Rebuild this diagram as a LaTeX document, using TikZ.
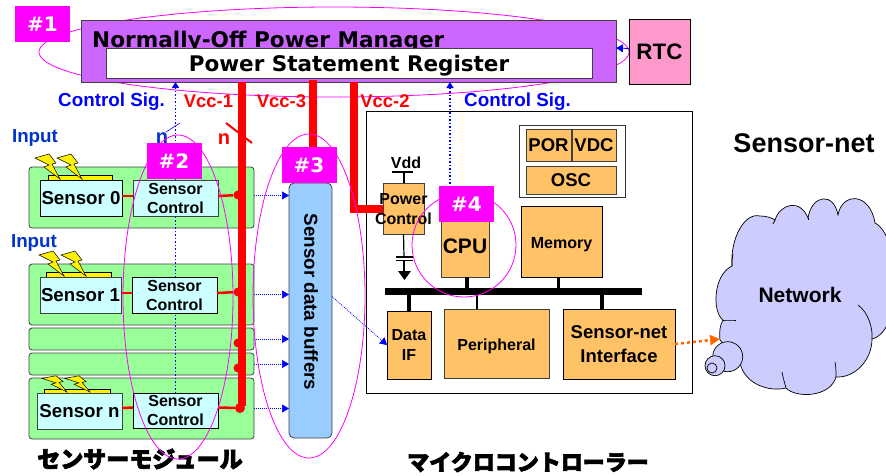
\documentclass[tikz,border=0pt]{standalone}
\usepackage{fontspec}
\setmainfont{Liberation Sans}
\newfontfamily\verd{DejaVu Sans}
\newfontfamily\jp[BoldFeatures={FakeBold=3}]{Noto Sans CJK JP}
\usetikzlibrary{arrows.meta}
\definecolor{fuchsia}{HTML}{FF00FF}
\definecolor{violet}{HTML}{CC66FF}
\definecolor{rose}{HTML}{FF99CC}
\definecolor{vert}{HTML}{99FF99}
\definecolor{cyanpale}{HTML}{CCFFFF}
\definecolor{orangepale}{HTML}{FFC266}
\definecolor{ciel}{HTML}{99CCFF}
\definecolor{lilas}{HTML}{CCCCFF}
\definecolor{bleu}{HTML}{0033CC}
\definecolor{orangefort}{HTML}{FF6600}

\begin{document}
\begin{tikzpicture}[x=1pt, y=-1pt]
	% STYLES
	\tikzstyle{boite} = [draw=black!75, line width=.8pt, inner sep=0, outer sep=0, align=center, font=\fontsize{16}{19}\selectfont\bfseries]
	\tikzstyle{module} = [boite, fill=vert, rounded corners=3pt]
	\tikzstyle{capteur} = [boite, fill=cyanpale, font=\fontsize{18.7}{22}\selectfont\bfseries]
	\tikzstyle{ctrlbox} = [boite, fill=cyanpale]
	\tikzstyle{orbox} = [boite, fill=orangepale]
	\tikzstyle{orgros} = [orbox, font=\fontsize{18.5}{23}\selectfont\bfseries]
	\tikzstyle{tag} = [fill=fuchsia, text=white, inner sep=0, outer sep=0, minimum width=55pt, minimum height=36pt, font=\verd\fontsize{20}{24}\selectfont\bfseries]
	\tikzstyle{halo} = [draw=fuchsia, line width=.8pt]
	\tikzstyle{vcc} = [draw=red, line width=8pt]
	\tikzstyle{vccfin} = [draw=red, line width=2.5pt]
	\tikzstyle{pastille} = [circle, fill=red, inner sep=0, minimum size=9pt]
	\tikzstyle{ctrlsig} = [draw=blue, line width=1.5pt, dash pattern=on 1.5pt off 2pt, -{Triangle[length=6pt,width=7pt]}]
	\tikzstyle{donnee} = [draw=blue, line width=.7pt, dash pattern=on 1pt off 1pt, -{Triangle[length=7pt,width=8pt]}]
	\tikzstyle{rouge} = [text=red, font=\fontsize{18.4}{22}\selectfont\bfseries]
	\tikzstyle{bleutxt} = [text=blue, font=\fontsize{18.8}{22}\selectfont\bfseries]
	\tikzstyle{entree} = [text=bleu, font=\fontsize{18.8}{22}\selectfont\bfseries]
	\tikzstyle{tige} = [draw=black, line width=3.5pt]
	\tikzstyle{eclair} = [fill=yellow, draw=black, line width=.5pt]
	\tikzstyle{plaque} = [fill=yellow, draw=black, line width=.5pt]
	\tikzstyle{nuage} = [fill=lilas, draw=black, line width=.7pt]

	\useasboundingbox (0,0) rectangle (886,475);
	\clip (0,0) rectangle (886,475);

	% ELLIPSE 1
	\draw[halo] (334,52) ellipse (295 and 45);

	% MANAGER
	\node[boite, fill=violet, minimum width=535pt, minimum height=62pt] (pm) at (348.5,51) {};
	\node[anchor=base west, inner sep=0, font=\verd\fontsize{21.6}{26}\selectfont\bfseries] (pmtxt) at (92,47) {Normally-Off Power Manager};
	\node[boite, fill=white, minimum width=486pt, minimum height=30pt, font=\verd\fontsize{21.5}{26}\selectfont\bfseries] (psr) at (349,63) {\raisebox{-8.5pt}[0pt][0pt]{Power Statement Register}};
	\node[boite, draw=black, fill=rose, minimum width=61pt, minimum height=65pt, font=\fontsize{22.4}{26}\selectfont\bfseries] (rtc) at (659.5,51.5) {RTC};
	\draw[draw=blue, line width=.8pt, -{Triangle[length=7pt,width=8pt]}] ([yshift=3pt]rtc.west) -- ([yshift=3pt]pm.east);

	% MODULES
	\node[module, minimum width=225pt, minimum height=61pt] (mod0) at (141.5,197.5) {};
	\node[module, minimum width=225pt, minimum height=61pt] (mod1) at (141.5,294.5) {};
	\node[module, minimum width=225pt, minimum height=22pt] (modA) at (141.5,339) {};
	\node[module, minimum width=225pt, minimum height=22pt] (modB) at (141.5,364) {};
	\node[module, minimum width=225pt, minimum height=61pt] (modn) at (141.5,408.5) {};

	% CONTROL SIG
	\coordinate (csbas) at (175.5,393);
	\draw[ctrlsig] (csbas) -- (csbas |- pm.south);

	% CAPTEURS
	\draw[plaque] (48,175) rectangle (112,181);
	\draw[plaque] (46,272) rectangle (111,278);
	\draw[plaque] (44,389) rectangle (110,394);
	\foreach \x/\y/\s in {60/179/1, 82/179/1, 64/276/1, 86/276/1, 67/392/.65, 90/392/.65}
		\draw[eclair] (\x-25,\y-21*\s) -- (\x-11,\y-25*\s) -- (\x-4,\y-16*\s) -- (\x-8,\y-15*\s) -- (\x,\y) -- (\x-16,\y-12*\s) -- (\x-11,\y-14*\s) -- cycle;

	\node[capteur, draw=black, minimum width=82pt, minimum height=36pt] (sens0) at (81,198) {Sensor 0};
	\node[ctrlbox, minimum width=85pt, minimum height=36pt] (ctrl0) at (175.5,198) {Sensor\\Control};
	\node[capteur, minimum width=81pt, minimum height=36pt] (sens1) at (80.5,295) {Sensor 1};
	\node[ctrlbox, draw=black, minimum width=85pt, minimum height=36pt] (ctrl1) at (174.5,295) {Sensor\\Control};
	\node[capteur, minimum width=85pt, minimum height=36pt] (sensn) at (79.5,411) {Sensor n};
	\node[ctrlbox, draw=black, minimum width=85pt, minimum height=35pt] (ctrln) at (175.5,410.5) {Sensor\\Control};

	% BUS VCC
	\coordinate (vcc1h) at (242,82);
	\coordinate (vcc1b) at (242,406);
	\coordinate (vcc3h) at (313,80);
	\coordinate (vcc3b) at (313,150);
	\coordinate (vcc2h) at (354,82);
	\node[pastille] (pt0) at (238,195) {};
	\node[pastille] (pt1) at (238,292) {};
	\node[pastille] (ptA) at (238,343) {};
	\node[pastille] (ptB) at (238,368) {};
	\node[pastille, minimum size=10pt] (ptn) at (240,408) {};
	\draw[vcc] (vcc1h) -- (vcc1b);
	\draw[vccfin] ([yshift=2pt]sens0.east) -- ([yshift=2pt]ctrl0.west);
	\draw[vccfin] ([yshift=2pt]ctrl0.east) -- (pt0);
	\draw[vccfin] ([yshift=2pt]sens1.east) -- ([yshift=2pt]ctrl1.west);
	\draw[vccfin] ([yshift=2pt]ctrl1.east) -- (pt1);
	\draw[vccfin] ([yshift=3pt]sensn.east) -- ([yshift=3pt]ctrln.west);
	\draw[vccfin] ([yshift=3pt]ctrln.east) -- (ptn);

	% BUFFERS
	\node[boite, fill=ciel, rounded corners=5pt, minimum width=43pt, minimum height=255pt] (buf) at (310.5,310.5) {};
	\node[rotate=-90, font=\fontsize{18.8}{22}\selectfont\bfseries] (buftxt) at (311,302) {Sensor data buffers};
	\draw[donnee] ([yshift=2pt]mod0.east) -- ([yshift=2pt]mod0.east -| buf.west);
	\draw[donnee] (mod1.east) -- (mod1.east -| buf.west);
	\draw[donnee] (modA.east) -- (modA.east -| buf.west);
	\draw[donnee] (modB.east) -- (modB.east -| buf.west);
	\draw[donnee] (modn.east) -- (modn.east -| buf.west);

	% MICROCONTROLEUR
	\node[boite, draw=black, fill=white, minimum width=326pt, minimum height=282pt] (mcu) at (529,252) {};
	\node[boite, draw=black!80, fill=white, minimum width=106pt, minimum height=72pt] (grp) at (572,161) {};
	\node[orgros, minimum width=45pt, minimum height=32pt] (por) at (548.5,145) {POR};
	\node[orgros, minimum width=44pt, minimum height=32pt] (vdc) at (594,145) {VDC};
	\node[orgros, minimum width=90pt, minimum height=28pt] (osc) at (571,180) {OSC};
	\node[orbox, minimum width=41pt, minimum height=51pt] (pc) at (403.5,208.5) {};
	\node[orbox, draw=black, minimum width=81pt, minimum height=71pt] (mem) at (561.5,241.5) {\raisebox{-7.2pt}[0pt][0pt]{Memory}};
	\node[orbox, draw=black, minimum width=44pt, minimum height=68pt, font=\fontsize{16}{20}\selectfont\bfseries] (dif) at (409,345) {Data\\IF};
	\node[orbox, minimum width=105pt, minimum height=69pt] (per) at (496.5,343.5) {\raisebox{-7.2pt}[0pt][0pt]{Peripheral}};
	\node[orgros, draw=black, minimum width=112pt, minimum height=70pt, font=\fontsize{18.5}{23.5}\selectfont\bfseries] (sni) at (619,344) {Sensor-net\\Interface};
	\node[fill=black, inner sep=0, outer sep=0, minimum width=257pt, minimum height=7pt] (bus) at (513.5,291.5) {};
	\node[orbox, minimum width=48pt, minimum height=62pt, font=\fontsize{21}{24}\selectfont\bfseries] (cpu) at (465,246) {CPU};

	% CONTROL SIG CPU
	\draw[ctrlsig] ([xshift=-15pt]cpu.north) -- ([xshift=-15pt]cpu.north |- pm.south);
	\draw[donnee] ([yshift=14pt]buf.east) -- (dif.west);

	% TIGES
	\draw[tige] ([xshift=2pt]cpu.south) -- ([xshift=2pt]cpu.south |- bus.north);
	\draw[tige] ([xshift=-3pt]mem.south) -- ([xshift=-3pt]mem.south |- bus.north);
	\draw[tige] (dif.north) -- (dif.north |- bus.south);
	\draw[tige, line width=2.5pt] ([xshift=-19.5pt]per.north) -- ([xshift=-19.5pt]per.north |- bus.south);
	\draw[tige] ([xshift=-17pt]sni.north) -- ([xshift=-17pt]sni.north |- bus.south);

	% VDD ET MASSE
	\node[font=\fontsize{16}{19}\selectfont\bfseries] (vdd) at (406,163) {Vdd};
	\coordinate (vddt) at (403.5,172);
	\coordinate (capa) at (404,257);
	\coordinate (capb) at (404,260.5);
	\coordinate (masse) at (404,271);
	\draw[line width=2pt] (pc.north) -- (vddt);
	\draw[line width=2pt] (392,172) -- (413,172);
	\draw[line width=1.2pt] (pc.south) -- (capa);
	\draw[line width=1.2pt] (396,257) -- (413,257);
	\draw[line width=1.2pt] (396,260.5) -- (413,260.5);
	\draw[line width=1.2pt] (capb) -- (masse);
	\fill (398,271) -- (411,271) -- (404.5,280) -- cycle;

	% VCC SUITE
	\draw[vcc] (vcc3h) -- (vcc3b);
	\draw[vcc] (vcc2h) |- (pc.west);
	\node[align=center, font=\fontsize{16}{20}\selectfont\bfseries] (pctxt) at (403.5,209) {Power\\Control};

	% NUAGE
	\draw[nuage] (720,340) .. controls (719,332) and (720,325) .. (723,320)
		.. controls (712,312) and (713,275) .. (732,266)
		.. controls (730,238) and (745,212) .. (760,216)
		.. controls (767,216) and (772,218) .. (775,220)
		.. controls (780,204) and (800,198) .. (808,218)
		.. controls (812,194) and (834,192) .. (838,215)
		.. controls (842,192) and (870,192) .. (875,223)
		.. controls (900,235) and (905,330) .. (872,339)
		.. controls (872,360) and (855,378) .. (836,377)
		.. controls (830,398) and (795,398) .. (786,388)
		.. controls (770,392) and (745,385) .. (740,363) -- cycle;
	\draw[line width=.7pt] (723,320) .. controls (727,320) and (732,320) .. (736,320);
	\draw[line width=.7pt] (858,305) .. controls (868,312) and (873,328) .. (872,339);
	\draw[line width=.7pt] (835,362) .. controls (836,367) and (836,372) .. (836,377);
	\draw[line width=.7pt] (782,372) .. controls (783,378) and (785,384) .. (786,388);
	\draw[line width=.7pt] (732,266) .. controls (732,262) and (732,258) .. (733,254);
	\draw[line width=.7pt] (775,220) -- (773,224);
	\draw[line width=.7pt] (808,218) -- (808,220);
	\draw[nuage] (727.7,356.7) circle (15);
	\draw[nuage] (715,365.7) circle (10);
	\draw[nuage] (712,368) circle (5);
	\node[font=\fontsize{21}{25}\selectfont\bfseries] (net) at (800,295) {Network};
	\node[font=\fontsize{27}{31}\selectfont\bfseries] (snet) at (804,143) {Sensor-net};
	\draw[draw=orangefort, line width=2.5pt, dash pattern=on 3pt off 3pt, -{Triangle[length=10pt,width=10pt]}] (sni.east) -- (720,339);

	% ETIQUETTES
	\node[bleutxt] (cs1) at (111.5,102) {Control Sig.};
	\node[bleutxt] (cs2) at (517.5,102) {Control Sig.};
	\node[rouge] (v1) at (208.5,101) {Vcc-1};
	\node[rouge] (v3) at (281.5,101) {Vcc-3};
	\node[rouge] (v2) at (385,101) {Vcc-2};
	\node[entree] (in0) at (35,138) {Input};
	\node[entree] (in1) at (34,243) {Input};
	\node[text=bleu, font=\fontsize{20}{24}\selectfont\bfseries] (nb) at (162,138) {n};
	\node[text=red, font=\fontsize{20}{24}\selectfont\bfseries] (nr) at (224,139) {n};
	\draw[blue, line width=.6pt] (166,132) -- (180,123);
	\draw[red, line width=2pt] (226,123) -- (252,143);
	\node[font=\jp\fontsize{23}{26}\selectfont\bfseries] (tmod) at (140,459) {センサーモジュール};
	\node[font=\jp\fontsize{22}{26}\selectfont\bfseries] (tmcu) at (528,462) {マイクロコントローラー};

	% ELLIPSES
	\draw[halo] (178,297) ellipse (55 and 162);
	\draw[halo] (309,296) ellipse (56 and 162);
	\draw[halo] (464,245) ellipse (52 and 52);

	% TAGS
	\node[tag] (tag1) at (42.5,24) {\#1};
	\node[tag] (tag2) at (174,161) {\#2};
	\node[tag] (tag3) at (309,165) {\#3};
	\node[tag] (tag4) at (466.5,204) {\#4};
\end{tikzpicture}
\end{document}
